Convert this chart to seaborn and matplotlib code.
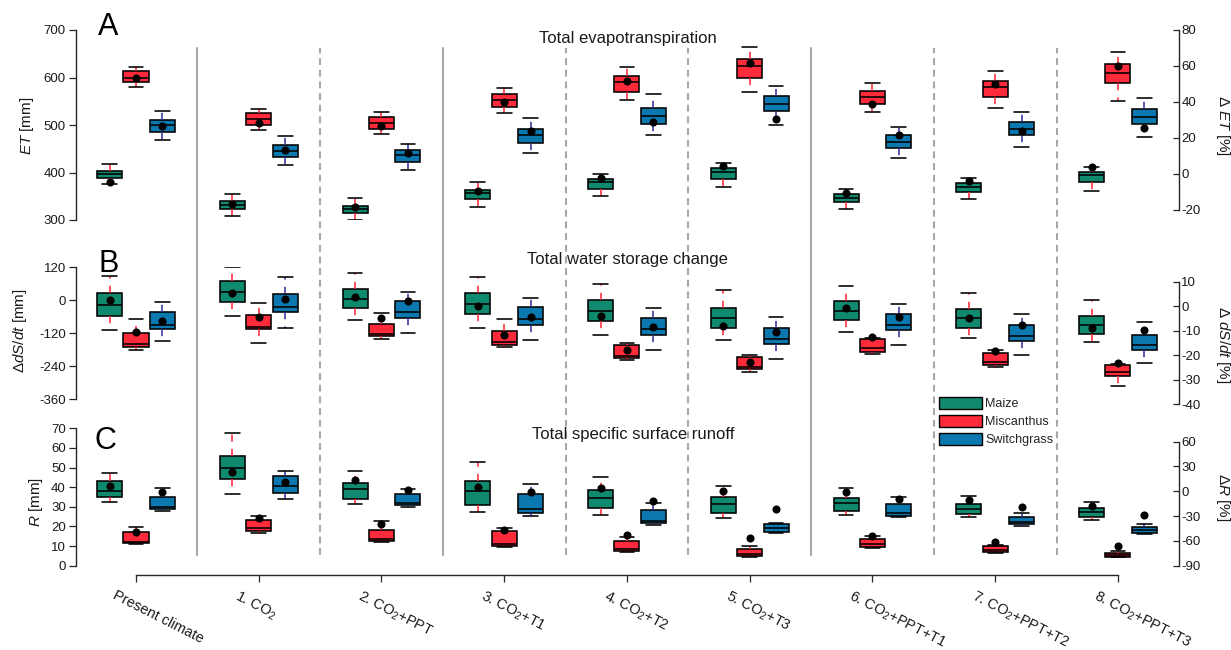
import matplotlib
matplotlib.use("Agg")
import numpy as np
import pandas as pd
import matplotlib.pyplot as plt
import matplotlib.transforms as mtransforms
from matplotlib.patches import Patch
import seaborn as sns

# ---------------------------------------------------------------- data
SCENARIOS = ["Present climate", "1. CO$_2$", "2. CO$_2$+PPT", "3. CO$_2$+T1",
             "4. CO$_2$+T2", "5. CO$_2$+T3", "6. CO$_2$+PPT+T1",
             "7. CO$_2$+PPT+T2", "8. CO$_2$+PPT+T3"]
CROPS = ["Maize", "Miscanthus", "Switchgrass"]

# five-number summaries per scenario: lower whisker, Q1, median, Q3, upper whisker
ET_MAIZE = [(375, 388, 397, 404, 417), (309, 323, 332, 340, 354), (300, 314, 323, 330, 346),
            (328, 344, 357, 363, 379), (350, 366, 380, 387, 397), (370, 386, 402, 409, 419),
            (323, 337, 346, 355, 365), (344, 359, 369, 378, 389), (362, 379, 395, 402, 412)]
ET_MISC = [(579, 590, 600, 614, 623), (490, 500, 513, 525, 533), (482, 492, 505, 516, 527),
           (525, 538, 553, 565, 577), (552, 569, 591, 603, 622), (569, 600, 624, 640, 664),
           (527, 544, 560, 572, 588), (536, 558, 581, 593, 614), (551, 589, 610, 628, 653)]
ET_SWITCH = [(468, 486, 499, 511, 530), (415, 433, 446, 457, 476), (405, 423, 436, 447, 460),
             (441, 462, 478, 491, 515), (478, 503, 519, 535, 565), (501, 530, 545, 562, 583),
             (431, 452, 465, 479, 496), (454, 479, 492, 506, 528), (475, 503, 516, 533, 557)]
ET_MAIZE_MEAN = [381, 333, 328, 362, 388, 414, 357, 383, 411]
ET_MISC_MEAN = [599, 504, 498, 549, 592, 631, 544, 586, 624]
ET_SWITCH_MEAN = [498, 447, 442, 487, 507, 513, 479, 488, 494]

DS_MAIZE = [(-107, -57, -16, 25, 88), (-56, -5, 31, 71, 122), (-72, -29, 4, 41, 98),
            (-101, -51, -12, 28, 84), (-125, -75, -39, 0, 60), (-144, -101, -64, -27, 36),
            (-114, -73, -39, -4, 53), (-138, -101, -66, -32, 27), (-153, -124, -91, -57, 1)]
DS_MISC = [(-180, -169, -160, -119, -69), (-156, -106, -96, -55, -11), (-140, -130, -123, -85, -45),
           (-169, -161, -153, -112, -67), (-218, -209, -201, -161, -154), (-261, -249, -241, -206, -199),
           (-195, -187, -175, -141, -136), (-244, -235, -223, -192, -181), (-311, -274, -260, -236, -233)]
DS_SWITCH = [(-149, -106, -89, -41, -5), (-101, -44, -23, 22, 84), (-118, -64, -44, -3, 30),
             (-144, -89, -69, -24, 8), (-182, -127, -106, -65, -28), (-212, -160, -140, -101, -60),
             (-163, -109, -91, -50, -12), (-199, -149, -130, -91, -51), (-228, -181, -164, -126, -80)]
DS_MAIZE_MEAN = [0, 28, 11, -22, -58, -93, -28, -66, -100]
DS_MISC_MEAN = [-114, -62, -66, -127, -180, -226, -132, -184, -229]
DS_SWITCH_MEAN = [-75, 5, -1, -60, -96, -114, -62, -90, -107]

R_MAIZE = [(32.4, 34.8, 38.0, 43.3, 47.4), (36.5, 44.0, 49.6, 55.9, 67.4), (31.3, 34.0, 38.9, 42.3, 48.2),
           (27.2, 30.8, 38.2, 43.1, 52.8), (25.8, 29.2, 34.6, 38.6, 45.2), (24.3, 27.0, 31.6, 35.2, 40.8),
           (26.0, 27.9, 31.8, 34.6, 39.4), (24.8, 26.5, 29.0, 31.6, 35.7), (23.4, 25.0, 27.2, 29.4, 32.3)]
R_MISC = [(10.9, 11.4, 12.0, 17.3, 19.5), (16.5, 17.7, 19.0, 23.3, 25.3), (12.1, 12.7, 13.4, 18.2, 22.9),
          (9.4, 10.2, 11.0, 17.8, 19.0), (6.8, 7.5, 8.3, 12.7, 14.5), (4.4, 4.9, 5.8, 8.7, 10.2),
          (9.2, 9.5, 10.9, 13.4, 15.0), (6.6, 7.0, 7.8, 9.9, 10.5), (4.3, 4.6, 5.3, 6.3, 7.5)]
R_SWITCH = [(28.0, 28.7, 30.0, 35.2, 39.4), (34.0, 37.0, 40.6, 45.7, 48.4), (30.0, 30.8, 32.0, 36.7, 38.9),
            (25.5, 26.7, 28.9, 36.7, 41.8), (20.7, 21.6, 22.9, 28.2, 32.1), (16.5, 17.2, 19.4, 21.4, 21.6),
            (25.0, 25.5, 26.7, 31.6, 35.2), (20.4, 21.2, 22.1, 25.0, 26.7), (16.3, 16.8, 18.2, 19.9, 21.2)]
R_MAIZE_MEAN = [40.8, 47.6, 43.7, 40.2, 39.6, 38.0, 37.4, 33.3, 30.4]
R_MISC_MEAN = [17.0, 24.5, 21.0, 18.2, 15.6, 14.1, 15.1, 12.1, 10.0]
R_SWITCH_MEAN = [37.4, 42.6, 38.4, 37.5, 33.0, 28.9, 33.8, 29.7, 25.8]

LEFT_TICKS = [[300, 400, 500, 600, 700], [-360, -240, -120, 0, 120], [0, 10, 20, 30, 40, 50, 60, 70]]
RIGHT_TICKS = [[-20, 0, 20, 40, 60, 80], [-40, -30, -20, -10, 0, 10], [-90, -60, -30, 0, 30, 60]]

# ---------------------------------------------------------------- style
sns.set_style("ticks")
plt.rcParams["font.family"] = ["Liberation Sans", "DejaVu Sans"]
plt.rcParams["axes.unicode_minus"] = False
plt.rcParams["mathtext.fontset"] = "custom"
plt.rcParams["mathtext.rm"] = "Liberation Sans"
plt.rcParams["mathtext.it"] = "Liberation Sans:italic"
plt.rcParams["mathtext.bf"] = "Liberation Sans:bold"

FILL = {"Maize": "#0f8a6f", "Miscanthus": "#ff2a3b", "Switchgrass": "#0b78b0"}
WHISK = {"Maize": "#ff2a3b", "Miscanthus": "#ff2a3b", "Switchgrass": "#33339e"}
OFFSET = {"Maize": -0.215, "Miscanthus": 0.0, "Switchgrass": 0.215}
TXT = "#1a1a1a"

W, H = 1231, 650
fig = plt.figure(figsize=(W / 100, H / 100), dpi=100)


def fx(x):
    return x / W


def fy(y):
    return 1 - y / H


X0, X1 = 76, 1179.3
panels = [
    dict(top=30, bottom=220, ylim=(300, 700), rlim=(-25.56, 80),
         stats=[ET_MAIZE, ET_MISC, ET_SWITCH], means=[ET_MAIZE_MEAN, ET_MISC_MEAN, ET_SWITCH_MEAN]),
    dict(top=267.3, bottom=404.3, ylim=(-378, 120), rlim=(-40, 15.9),
         stats=[DS_MAIZE, DS_MISC, DS_SWITCH], means=[DS_MAIZE_MEAN, DS_MISC_MEAN, DS_SWITCH_MEAN]),
    dict(top=428.3, bottom=565.7, ylim=(0, 70), rlim=(-90, 76.2),
         stats=[R_MAIZE, R_MISC, R_SWITCH], means=[R_MAIZE_MEAN, R_MISC_MEAN, R_SWITCH_MEAN]),
]

axes = []
for k, p in enumerate(panels):
    ax = fig.add_axes([fx(X0), fy(p["bottom"]), fx(X1) - fx(X0), (p["bottom"] - p["top"]) / H])
    ax.set_facecolor("none")
    for crop, summ, mean in zip(CROPS, p["stats"], p["means"]):
        rows = [(i + OFFSET[crop], v) for i, five in enumerate(summ) for v in five]
        df = pd.DataFrame(rows, columns=["pos", "value"])
        sns.boxplot(data=df, x="pos", y="value", native_scale=True, orient="x",
                    width=0.204, whis=(0, 100), color=FILL[crop], saturation=1,
                    linecolor="black", linewidth=1.15, fliersize=0,
                    whiskerprops={"color": WHISK[crop], "linestyle": (0, (4.5, 4.5))},
                    capwidths=0.12, ax=ax)
        mdf = pd.DataFrame({"pos": [i + OFFSET[crop] for i in range(len(mean))], "mean": mean})
        sns.scatterplot(data=mdf, x="pos", y="mean", color="black", s=34, linewidth=0,
                        zorder=6, legend=False, ax=ax)
    ax.set_xlim(-0.489, 8.5)
    ax.set_ylim(*p["ylim"])
    ax.set_xlabel("")
    ax.set_ylabel("")
    ax.set_yticks(LEFT_TICKS[k])
    ax.spines["left"].set_bounds(LEFT_TICKS[k][0], LEFT_TICKS[k][-1])
    ax.spines["left"].set_linewidth(1.0)
    for s in ["top", "right"]:
        ax.spines[s].set_visible(False)
    ax.tick_params(axis="y", direction="out", length=4.8, width=0.9, pad=2.5,
                   labelsize=9.5, labelcolor=TXT)
    if k < 2:
        ax.spines["bottom"].set_visible(False)
        ax.tick_params(axis="x", bottom=False, labelbottom=False)

    tw = ax.twinx()
    tw.set_facecolor("none")
    tw.set_ylim(*p["rlim"])
    tw.set_yticks(RIGHT_TICKS[k])
    tw.spines["right"].set_bounds(RIGHT_TICKS[k][0], RIGHT_TICKS[k][-1])
    tw.spines["right"].set_linewidth(1.0)
    for s in ["top", "left", "bottom"]:
        tw.spines[s].set_visible(False)
    tw.tick_params(axis="y", direction="in", length=4.0, width=0.9, pad=1.5,
                   labelsize=9.5, labelcolor=TXT)
    axes.append(ax)

# bottom scenario axis
axc = axes[2]
axc.spines["bottom"].set_position(("outward", 6.7))
axc.spines["bottom"].set_bounds(0, 8)
axc.spines["bottom"].set_linewidth(1.0)
axc.set_xticks(range(len(SCENARIOS)))
axc.set_xticklabels(SCENARIOS, rotation=-27, rotation_mode="anchor", ha="left", va="top",
                    fontsize=10.4, color=TXT)
axc.tick_params(axis="x", direction="out", length=4.8, width=0.9, pad=4.5)
shift = mtransforms.ScaledTranslation(-19 / 100, 0, fig.dpi_scale_trans)
for lab in axc.get_xticklabels():
    lab.set_transform(lab.get_transform() + shift)

# scenario separators running through all three panels
blend = mtransforms.blended_transform_factory(axc.transData, fig.transFigure)
for b in range(1, len(SCENARIOS)):
    solid = b in (1, 3, 6)
    axc.plot([b - 0.5, b - 0.5], [fy(554.5), fy(48.3)], transform=blend, clip_on=False,
             color="#a8a8a8", lw=1.5, zorder=0.5,
             linestyle="-" if solid else (0, (3.3, 2.3)))

# panel letters and titles
for letter, x, y in [("A", 108.5, 35), ("B", 109, 271.7), ("C", 105, 449.3)]:
    fig.text(fx(x), fy(y), letter, fontsize=22, ha="center", va="baseline", color="black")
for title, x, y in [("Total evapotranspiration", 628, 42.5),
                    ("Total water storage change", 627.5, 263.5),
                    ("Total specific surface runoff", 633, 439)]:
    fig.text(fx(x), fy(y), title, fontsize=12, ha="center", va="baseline", color=TXT)

# axis titles
for text, x, y in [("$ET$ [mm]", 27, 126), ("Δ$dS/dt$ [mm]", 20, 331), ("$R$ [mm]", 36, 502)]:
    fig.text(fx(x), fy(y), text, rotation=90, fontsize=11, ha="center", va="center", color=TXT)
for text, x, y in [("Δ $ET$ [%]", 1223, 126), ("Δ $dS/dt$ [%]", 1223, 345), ("Δ$R$ [%]", 1223, 497)]:
    fig.text(fx(x), fy(y), text, rotation=270, fontsize=11, ha="center", va="center", color=TXT)

handles = [Patch(facecolor=FILL[c], edgecolor="black", linewidth=1.0, label=c) for c in CROPS]
fig.legend(handles=handles, loc="upper left", bbox_to_anchor=(fx(939), fy(396.5)),
           frameon=False, fontsize=9, handlelength=3.4, handleheight=1.1,
           handletextpad=0.3, labelspacing=0.4, borderpad=0, borderaxespad=0)

fig.savefig("out.png", dpi=100)
